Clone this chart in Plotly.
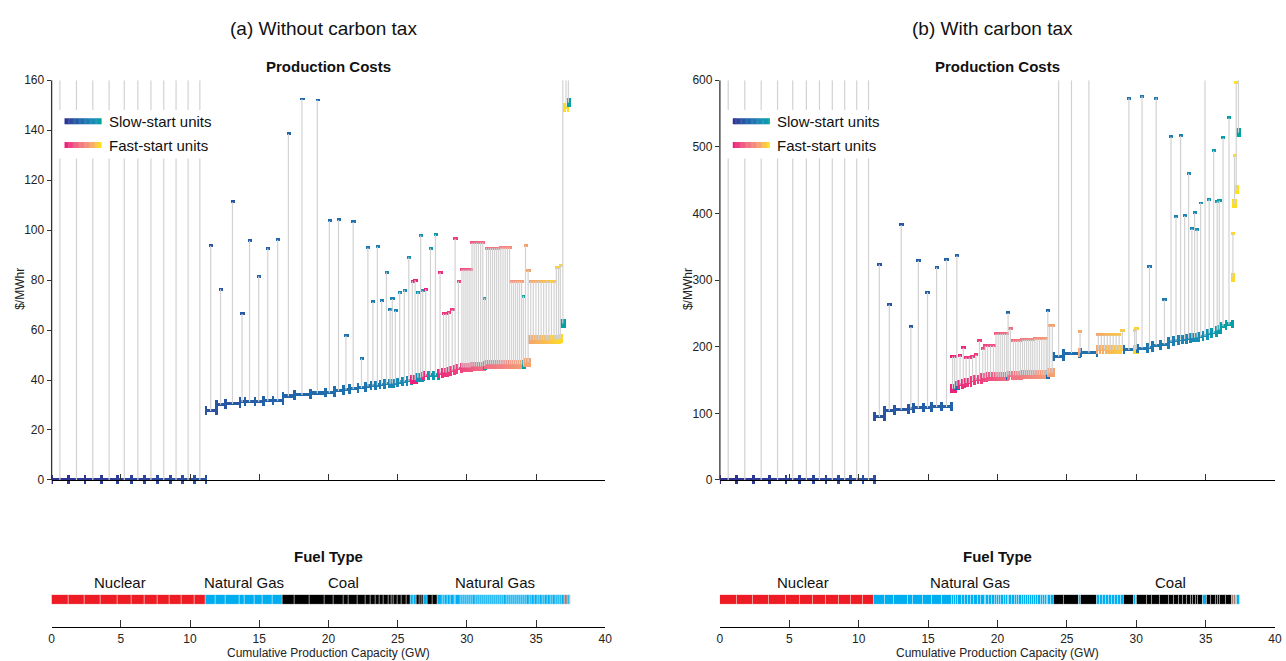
import plotly.graph_objects as go

W, H = 1286, 661
FONT = "Liberation Sans, Arial, sans-serif"

# ---------------- generating units in merit order ----------------
# nuclear block (same in both cases, zero marginal cost, commitment cost off scale)
nuclear_cap = [1.20, 1.19, 1.17, 1.19, 1.00, 0.96, 0.93, 0.92, 0.86, 0.88, 0.82]

# combined-cycle gas block (slow start)
ccgt_cap = [0.74, 0.69, 1.03, 0.36, 0.72, 0.60, 0.71, 0.72]
ccgt_low_a = [27.6, 30.2, 30.5, 31.2, 31.2, 31.3, 31.6, 31.7]
ccgt_high_a = [93.7, 76.3, 111.2, 66.4, 95.7, 81.5, 92.6, 96.1]
ccgt_low_b = [94.6, 103.5, 105.0, 107.0, 108.0, 108.4, 109.4, 109.4]
ccgt_high_b = [323.3, 263.0, 382.7, 229.7, 329.2, 281.7, 318.8, 330.7]

# remaining blocks, case (a): count of identical units, GW per unit,
# marginal cost, full cost with commitment ($/MWhr), start type, fuel
a_count = [1, 1, 1, 1, 1, 1, 1, 1, 1, 1, 1, 1, 1, 1, 1, 1, 1, 1, 1,
           1, 1, 1, 1, 1, 1, 1, 1, 1, 2,
           1, 1, 1, 1, 5, 6, 1, 7, 5, 6,
           1, 1, 1, 10, 2, 1, 1, 1, 1, 1]
a_cap = [0.83, 1.13, 1.09, 0.65, 0.67, 0.41, 0.64, 0.55, 0.38, 0.34,
         0.31, 0.31, 0.38, 0.15, 0.16, 0.29, 0.33, 0.34, 0.31,
         0.20, 0.20, 0.20, 0.20, 0.10, 0.33, 0.36, 0.36, 0.31, 0.19,
         0.19, 0.30, 0.12, 0.36, 0.145, 0.155, 0.12, 0.147, 0.158, 0.143,
         0.12, 0.19, 0.19, 0.187, 0.15, 0.12, 0.24, 0.22, 0.12, 0.12]
a_low = [33.5, 34.0, 34.7, 34.9, 35.6, 36.1, 36.4, 36.8, 37.5, 37.8,
         37.9, 38.2, 38.5, 38.5, 38.6, 38.7, 39.1, 39.3, 39.6,
         40.0, 40.0, 40.9, 40.9, 41.3, 41.6, 41.9, 41.9, 42.6, 43.0,
         43.3, 43.7, 44.3, 44.6, 45.0, 45.4, 45.7, 46.3, 46.3, 46.3,
         46.0, 47.0, 47.0, 56.0, 56.3, 56.6, 62.6, 149.0, 151.0, 190.0]
a_high = [138.5, 152.4, 152.0, 103.6, 104.0, 57.7, 103.2, 48.6, 92.9, 71.2,
          93.3, 71.6, 83.0, 68.0, 72.4, 67.6, 75.1, 75.9, 89.0,
          79.5, 79.9, 75.1, 97.8, 75.6, 76.3, 92.6, 98.1, 83.0, 66.5,
          67.0, 68.0, 96.5, 79.5, 84.2, 94.9, 72.7, 92.7, 93.0, 79.5,
          73.5, 93.7, 83.8, 79.5, 84.8, 85.9, None, None, None, None]
a_start = "SSSSSSSSSSSSSSSSSSS" + "FFSSSFSSFF" + "FFFFFFSFFF" + "SFFFFFSFSF"
a_fuel = "CCCCCCCCCCCCCCCCCCC" + "GGCCCGCCGG" + "GGGGGGGGGG" + "GGGGGGGOGO"

# remaining blocks, case (b)
b_count = [2, 1, 1, 1, 2, 1, 1, 1, 1, 1,
           3, 6, 1, 1, 4, 6, 6, 1, 2, 1,
           1, 1, 1, 8, 1, 1, 1, 1, 1, 1,
           1, 1, 1, 1, 1, 1, 1, 1, 1, 1,
           1, 1, 1, 1, 1, 1, 1, 1, 1, 1,
           1, 1]
b_cap = [0.15, 0.17, 0.29, 0.18, 0.23, 0.23, 0.27, 0.23, 0.24, 0.12,
         0.213, 0.152, 0.07, 0.26, 0.168, 0.147, 0.163, 0.07, 0.19, 0.73,
         1.12, 0.12, 1.15, 0.214, 0.24, 0.71, 0.12, 0.12, 0.71, 0.36,
         0.60, 0.59, 0.36, 0.36, 0.30, 0.29, 0.28, 0.19, 0.20, 0.17,
         0.33, 0.30, 0.30, 0.35, 0.15, 0.15, 0.40, 0.45, 0.12, 0.12,
         0.12, 0.20]
b_low = [137.0, 141.0, 143.0, 144.0, 145.5, 148.5, 150.0, 151.0, 153.0, 153.0,
         154.5, 154.5, 157.0, 157.0, 157.0, 157.5, 158.0, 158.0, 160.4, 185.2,
         190.0, 191.0, 191.0, 195.0, 196.0, 195.0, 195.0, 196.0, 197.5, 198.5,
         202.0, 203.5, 207.5, 209.0, 210.0, 211.0, 212.4, 213.0, 213.5, 214.0,
         215.0, 216.0, 219.8, 220.5, 224.7, 226.0, 230.7, 233.7, 304.0, 414.0,
         435.0, 521.0]
b_high = [185.2, 336.7, 186.7, 198.6, 183.7, 185.2, 187.6, 208.4, 197.0, 201.0,
          201.5, 219.3, 250.5, 226.8, 209.0, 210.4, 212.0, 253.5, 231.2, None,
          None, 222.3, None, 217.3, 223.8, 572.9, 224.7, 227.0, 575.8, 320.3,
          572.9, 269.9, 514.9, 394.6, 516.4, 396.1, 460.0, 376.8, 400.5, 375.3,
          415.4, None, 421.3, 494.1, 417.8, 419.0, 513.4, 543.1, 369.0, 486.0,
          596.0, None]
b_start = "FSFFFFFFFF" + "FFSFFFFSFS" + "SFSFFSFFSS" + "SSSSSSSSSS" + "SSSSSSSSFF" + "FS"
b_fuel = "GGGGGGGGGG" + "GGGGGGGGGC" + "CGCGGCGGCC" + "CCCCCCCCCC" + "CGCCCCCCOO" + "OG"

x_ticks = [0, 5, 10, 15, 20, 25, 30, 35, 40]
y_ticks_a = [0, 20, 40, 60, 80, 100, 120, 140, 160]
y_ticks_b = [0, 100, 200, 300, 400, 500, 600]

fuel_colors = {"N": "#ed1c24", "G": "#00aeef", "C": "#000000", "O": "#a07c72"}
slow_scale = [(0.0, "#2e3192"), (0.2, "#2b4f9f"), (0.4, "#2163a8"),
              (0.65, "#1d7db3"), (0.85, "#1592b5"), (1.0, "#00a2a2")]
fast_scale = [(0.0, "#ec1e79"), (0.15, "#ee3f80"), (0.35, "#f16a82"),
              (0.55, "#f3857f"), (0.75, "#f6a76c"), (0.88, "#f9c44a"), (1.0, "#ffe01a")]

# ---------------- helpers ----------------
def hex_rgb(h):
    h = h.lstrip("#")
    return tuple(int(h[i:i + 2], 16) for i in (0, 2, 4))


def sample(scale, t):
    t = min(max(t, 0.0), 1.0)
    for (t0, c0), (t1, c1) in zip(scale[:-1], scale[1:]):
        if t <= t1:
            f = 0 if t1 == t0 else (t - t0) / (t1 - t0)
            a, b = hex_rgb(c0), hex_rgb(c1)
            return "rgb({},{},{})".format(*[round(a[i] + (b[i] - a[i]) * f) for i in range(3)])
    return scale[-1][1]


def build_units(ccgt_low, ccgt_high, count, cap, low, high, start, fuel):
    units = [(c, 0.0, None, "S", "N") for c in nuclear_cap]
    units += [(c, lo, hi, "S", "G") for c, lo, hi in zip(ccgt_cap, ccgt_low, ccgt_high)]
    for n, c, lo, hi, s, f in zip(count, cap, low, high, start, fuel):
        units += [(c, lo, hi, s, f)] * n
    x0 = 0.0
    out = []
    for c, lo, hi, s, f in units:
        out.append(dict(x0=x0, x1=x0 + c, low=lo, high=hi, start=s, fuel=f))
        x0 += c
    slow = [u for u in out if u["start"] == "S"]
    fast = [u for u in out if u["start"] == "F"]
    for grp, scale in ((slow, slow_scale), (fast, fast_scale)):
        for i, u in enumerate(grp):
            u["color"] = sample(scale, i / max(len(grp) - 1, 1))
    return out


units_a = build_units(ccgt_low_a, ccgt_high_a, a_count, a_cap, a_low, a_high, a_start, a_fuel)
units_b = build_units(ccgt_low_b, ccgt_high_b, b_count, b_cap, b_low, b_high, b_start, b_fuel)

# ---------------- layout geometry (pixels) ----------------
X_PIX = {"a": (49, 607), "b": (722.5, 1282)}
TOP_PX, ZERO_PX, BOTTOM_PX = 74, 478, 488
STRIP_TOP, STRIP_BOT, STRIP_AXIS = 594, 604, 627
Y_MAX = {"a": 160, "b": 600}


def px_x(p):
    return p / W


def px_y(p):
    return 1 - p / H


fig = go.Figure()


def add_panel(units, key, xa, ya, xs, ys):
    ymax = Y_MAX[key]
    ppu = (ZERO_PX - TOP_PX) / ymax           # pixels per $/MWhr
    gpx = (X_PIX[key][1] - X_PIX[key][0]) / 40.0  # pixels per GW
    ymin = -(BOTTOM_PX - ZERO_PX) / ppu
    seg_h, tick_h, mk_h = 3.3 / ppu, 9.0 / ppu, 3.0 / ppu
    tick_w, mk_w = 2.8 / gpx, 4.4 / gpx

    # stems from marginal cost up to full cost
    lx, ly = [], []
    for u in units:
        if u["low"] >= ymax:
            continue
        c = (u["x0"] + u["x1"]) / 2
        top = ymax if u["high"] is None else u["high"]
        lx += [c, c, None]
        ly += [u["low"], top, None]
    fig.add_trace(go.Scatter(x=lx, y=ly, mode="lines", xaxis=xa, yaxis=ya,
                             line=dict(color="#d2d2d2", width=1.2),
                             hoverinfo="skip", showlegend=False))

    # marginal-cost steps
    fig.add_trace(go.Bar(x=[(u["x0"] + u["x1"]) / 2 for u in units],
                         y=[seg_h] * len(units),
                         base=[u["low"] - seg_h / 2 for u in units],
                         width=[u["x1"] - u["x0"] for u in units],
                         marker=dict(color=[u["color"] for u in units], line=dict(width=0)),
                         xaxis=xa, yaxis=ya, hoverinfo="skip", showlegend=False))
    # end ticks of each step
    tx, tb, tc = [], [], []
    for u in units:
        for e in (u["x0"], u["x1"]):
            tx.append(e)
            tb.append(u["low"] - tick_h / 2)
            tc.append(u["color"])
    fig.add_trace(go.Bar(x=tx, y=[tick_h] * len(tx), base=tb, width=[tick_w] * len(tx),
                         marker=dict(color=tc, line=dict(width=0)),
                         xaxis=xa, yaxis=ya, hoverinfo="skip", showlegend=False))
    # full-cost markers
    hu = [u for u in units if u["high"] is not None]
    fig.add_trace(go.Bar(x=[(u["x0"] + u["x1"]) / 2 for u in hu],
                         y=[mk_h] * len(hu),
                         base=[u["high"] - mk_h / 2 for u in hu],
                         width=[mk_w] * len(hu),
                         marker=dict(color=[u["color"] for u in hu], line=dict(width=0)),
                         xaxis=xa, yaxis=ya, hoverinfo="skip", showlegend=False))

    # fuel strip
    fig.add_trace(go.Bar(x=[(u["x0"] + u["x1"]) / 2 for u in units],
                         y=[1] * len(units), base=[0] * len(units),
                         width=[u["x1"] - u["x0"] for u in units],
                         marker=dict(color=[fuel_colors[u["fuel"]] for u in units],
                                     line=dict(color="rgba(255,255,255,0.45)", width=0.8)),
                         xaxis=xs, yaxis=ys, hoverinfo="skip", showlegend=False))
    return ymin


ymin_a = add_panel(units_a, "a", "x", "y", "x3", "y3")
ymin_b = add_panel(units_b, "b", "x2", "y2", "x4", "y4")

axis_font = dict(family=FONT, size=12, color="#222")


def xdom(key):
    return [px_x(X_PIX[key][0]), px_x(X_PIX[key][1])]


top_dom = [px_y(BOTTOM_PX), px_y(TOP_PX)]
strip_dom = [px_y(STRIP_BOT), px_y(STRIP_TOP)]

common_top_x = dict(range=[0, 40], anchor="free", position=px_y(ZERO_PX), showline=True,
                    linecolor="#000", linewidth=1.2, ticks="inside", ticklen=6,
                    tickwidth=1.2, tickcolor="#333", tickvals=x_ticks,
                    showticklabels=False, showgrid=False, zeroline=False)
common_strip_x = dict(range=[0, 40], anchor="free", position=px_y(STRIP_AXIS), showline=True,
                      linecolor="#000", linewidth=1.2, ticks="inside", ticklen=7,
                      tickwidth=1.2, tickcolor="#333", tickvals=x_ticks,
                      tickfont=axis_font, showgrid=False, zeroline=False)

fig.update_layout(
    width=W, height=H, margin=dict(l=0, r=0, t=0, b=0),
    paper_bgcolor="white", plot_bgcolor="white", barmode="overlay", bargap=0,
    font=dict(family=FONT, color="#222"), showlegend=False,
    xaxis=dict(domain=xdom("a"), **common_top_x),
    xaxis2=dict(domain=xdom("b"), **common_top_x),
    xaxis3=dict(domain=xdom("a"), **common_strip_x),
    xaxis4=dict(domain=xdom("b"), **common_strip_x),
    yaxis=dict(domain=top_dom, range=[ymin_a, 160], anchor="x", tickvals=y_ticks_a,
               ticks="outside", ticklen=4, tickcolor="#333", tickfont=axis_font,
               showgrid=False, zeroline=False, showline=False),
    yaxis2=dict(domain=top_dom, range=[ymin_b, 600], anchor="x2", tickvals=y_ticks_b,
                ticks="outside", ticklen=4, tickcolor="#333", tickfont=axis_font,
                showgrid=False, zeroline=False, showline=False),
    yaxis3=dict(domain=strip_dom, range=[0, 1], anchor="x3", visible=False),
    yaxis4=dict(domain=strip_dom, range=[0, 1], anchor="x4", visible=False),
)

shapes = []
# y-axis lines from 0 to the top of each panel
for xa, ya, top in (("x", "y", 160), ("x2", "y2", 600)):
    shapes.append(dict(type="line", xref=xa + " domain", yref=ya, x0=0, x1=0, y0=0, y1=top,
                       line=dict(color="#333", width=1.3), layer="above"))


def text_ann(x, y, text, size, xanchor="center", angle=0, xref="paper", color="#111"):
    return dict(xref=xref, yref="paper", x=x, y=y, text=text, showarrow=False,
                xanchor=xanchor, yanchor="middle", textangle=angle,
                font=dict(family=FONT, size=size, color=color))


# custom legends with gradient swatches
ann = []
for key, box in (("a", (55, 214)), ("b", (728, 890))):
    sw0 = X_PIX[key][0] + 13
    shapes.append(dict(type="rect", xref="paper", yref="paper", layer="above",
                       x0=px_x(box[0]), x1=px_x(box[1]), y0=px_y(153), y1=px_y(104),
                       fillcolor="white", line=dict(width=0)))
    for label, scale, yc in (("Slow-start units", slow_scale, 115.5),
                             ("Fast-start units", fast_scale, 139.5)):
        n = 30
        for i in range(n):
            shapes.append(dict(type="rect", xref="paper", yref="paper", layer="above",
                               x0=px_x(sw0 + 37 * i / n), x1=px_x(sw0 + 37 * (i + 1) / n + 0.4),
                               y0=px_y(yc + 3), y1=px_y(yc - 3),
                               fillcolor=sample(scale, i / (n - 1)), line=dict(width=0)))
        ann.append(text_ann(px_x(sw0 + 43), px_y(yc), label, 15, xanchor="left"))

# titles and labels
for title, xc in (("(a) Without carbon tax", 323), ("(b) With carbon tax", 997)):
    ann.append(text_ann(px_x(xc), px_y(22), title, 19))
for key in ("a", "b"):
    xc = (X_PIX[key][0] + X_PIX[key][1]) / 2
    ann.append(text_ann(px_x(xc), px_y(60), "<b>Production Costs</b>", 15))
    ann.append(text_ann(px_x(xc), px_y(555), "<b>Fuel Type</b>", 15))
    ann.append(text_ann(px_x(xc), px_y(653), "Cumulative Production Capacity (GW)", 12,
                        color="#222"))
    ann.append(text_ann(px_x(X_PIX[key][0] - 32), px_y(285), "$/MWhr", 12, angle=-90,
                        color="#222"))

fuel_labels_a = [("Nuclear", 4.95), ("Natural Gas", 13.9), ("Coal", 21.1), ("Natural Gas", 32.0)]
fuel_labels_b = [("Nuclear", 5.96), ("Natural Gas", 18.0), ("Coal", 32.5)]
for xa, labels in (("x3", fuel_labels_a), ("x4", fuel_labels_b)):
    for txt, gx in labels:
        ann.append(text_ann(gx, px_y(582), txt, 15, xref=xa))

fig.update_layout(shapes=shapes, annotations=ann)
fig.write_html("out.html")
